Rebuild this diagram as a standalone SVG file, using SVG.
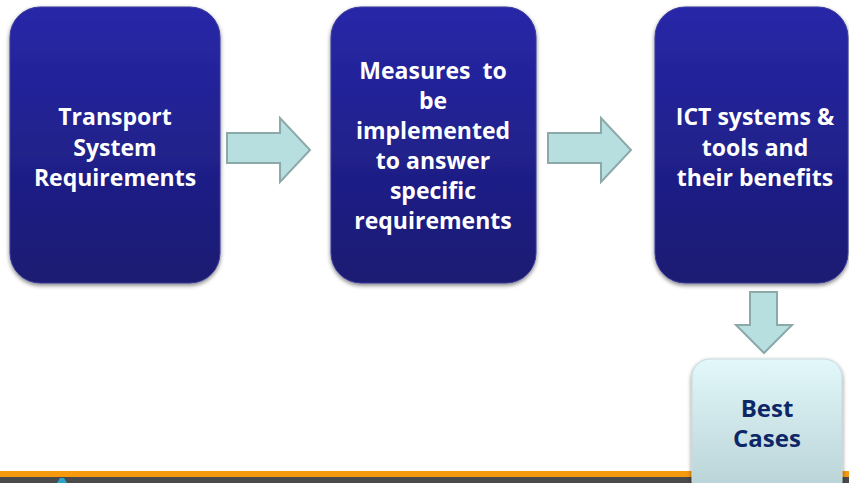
<svg xmlns="http://www.w3.org/2000/svg" width="849" height="483" viewBox="0 0 849 483">
<defs>
<linearGradient id="gBlue" x1="0" y1="0" x2="0" y2="1">
<stop offset="0" stop-color="#2727a8"/>
<stop offset="1" stop-color="#1a1a72"/>
</linearGradient>
<linearGradient id="gLight" x1="0" y1="0" x2="0" y2="1">
<stop offset="0" stop-color="#e2f8fb"/>
<stop offset="1" stop-color="#b6d0d3"/>
</linearGradient>
<filter id="sh" x="-10%" y="-10%" width="120%" height="120%">
<feGaussianBlur in="SourceAlpha" stdDeviation="2"/>
<feOffset dx="0" dy="2"/>
<feComponentTransfer><feFuncA type="linear" slope="0.5"/></feComponentTransfer>
<feMerge><feMergeNode/><feMergeNode in="SourceGraphic"/></feMerge>
</filter>
</defs>
<style>
.box{fill:url(#gBlue);stroke:#3a3a9a;stroke-width:1;filter:url(#sh);}
.lbox{fill:url(#gLight);stroke:#c8d8da;stroke-width:1;filter:url(#sh);}
.t{font-family:"Open Sans","DejaVu Sans",sans-serif;font-weight:bold;font-size:23px;fill:#ffffff;text-anchor:middle;}
.td{font-family:"Open Sans","DejaVu Sans",sans-serif;font-weight:bold;font-size:24px;fill:#0d2766;text-anchor:middle;}
.arr{fill:#b8dfe0;stroke:#8ca9aa;stroke-width:2;}
</style>
<rect width="849" height="483" fill="#ffffff"/>
<rect x="0" y="471" width="849" height="6" fill="#f7990f"/>
<rect x="0" y="477" width="849" height="6" fill="#4a4a4a"/>
<path d="M57 483 L60 478 L64 478 L67 483 Z" fill="#2aa3c8"/>
<g id="connectors">
<path class="arr" d="M227 133 H280 V118 L310 150 L280 182 V163 H227 Z"/>
<path class="arr" d="M548 133 H601 V118 L631 150 L601 182 V163 H548 Z"/>
<path class="arr" d="M750 292 H777 V325 H792 L764 353 L736 325 H750 Z"/>
</g>
<g id="node1">
<rect class="box" x="10" y="7" width="210" height="276" rx="30"/>
<text class="t" x="115" y="125">Transport</text>
<text class="t" x="115" y="156">System</text>
<text class="t" x="115" y="186">Requirements</text>
</g>
<g id="node2">
<rect class="box" x="331" y="7" width="205" height="276" rx="30"/>
<text class="t" x="433" y="79" xml:space="preserve">Measures  to</text>
<text class="t" x="433" y="109">be</text>
<text class="t" x="433" y="139">implemented</text>
<text class="t" x="433" y="169">to answer</text>
<text class="t" x="433" y="199">specific</text>
<text class="t" x="433" y="229">requirements</text>
</g>
<g id="node3">
<rect class="box" x="655" y="7" width="193" height="276" rx="30"/>
<text class="t" x="755" y="125">ICT systems &amp;</text>
<text class="t" x="755" y="156">tools and</text>
<text class="t" x="755" y="186">their benefits</text>
</g>
<g id="node4">
<rect class="lbox" x="692" y="359" width="150" height="140" rx="18"/>
<text class="td" x="767" y="417">Best</text>
<text class="td" x="767" y="447">Cases</text>
</g>
</svg>
